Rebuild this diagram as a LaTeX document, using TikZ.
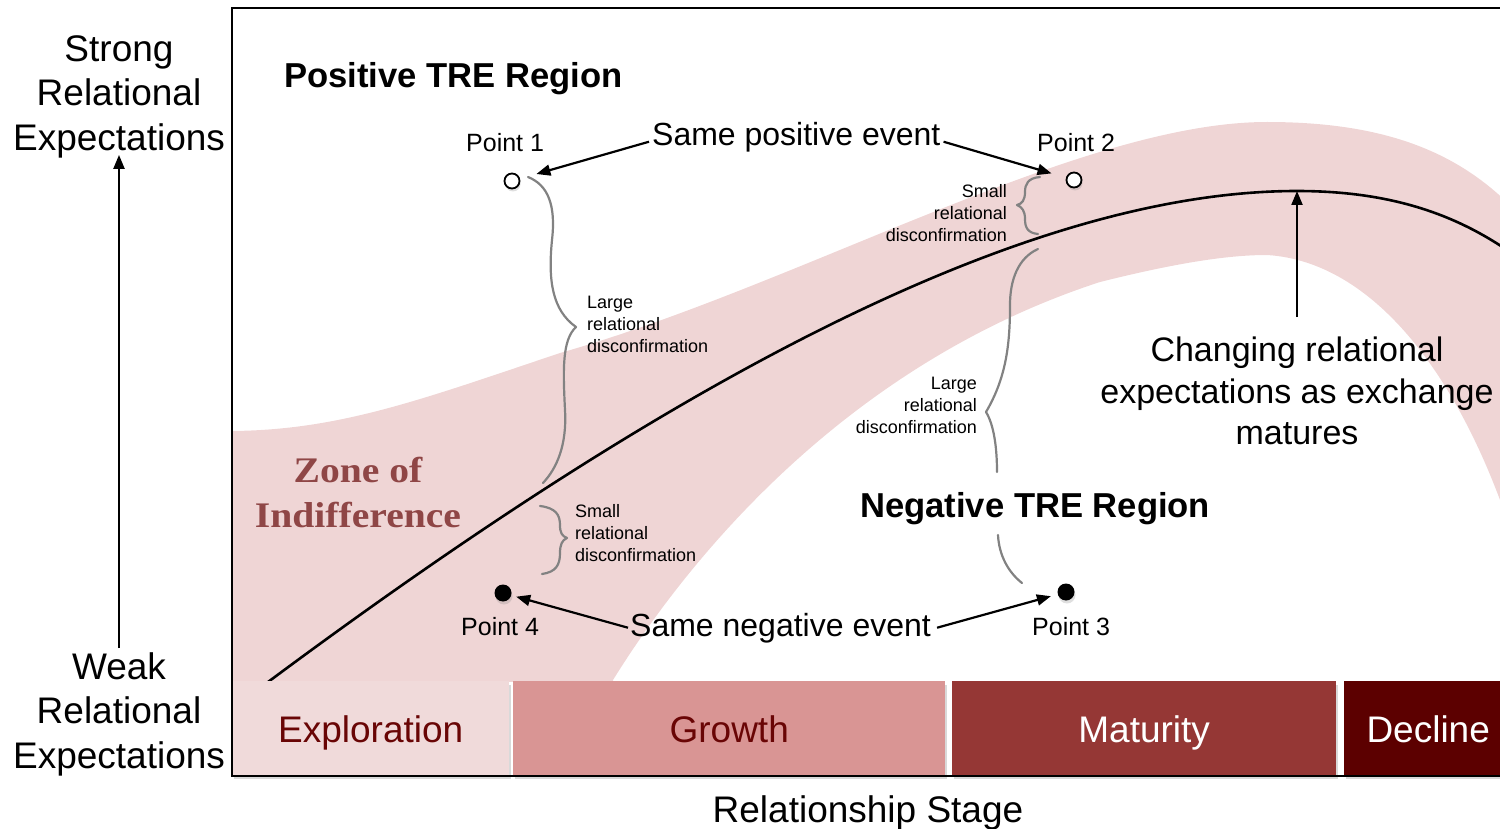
\documentclass[tikz,border=0pt]{standalone}
\usepackage{fontspec}
\setmainfont{Liberation Sans}
\newfontfamily\zonefont[FakeStretch=1.1]{Liberation Serif}
\usetikzlibrary{arrows.meta,shadows}

\definecolor{bandpink}{RGB}{239,213,213}
\definecolor{explfill}{RGB}{240,218,218}
\definecolor{growfill}{RGB}{217,149,148}
\definecolor{matfill}{RGB}{149,55,53}
\definecolor{decfill}{RGB}{92,0,0}
\definecolor{stagedark}{RGB}{105,5,5}
\definecolor{zonered}{RGB}{143,70,70}
\definecolor{bracegray}{RGB}{130,130,130}

\begin{document}
\begin{tikzpicture}[x=1pt,y=-1pt,
  arr/.style={line width=2.2pt,-{Triangle[length=14pt,width=11pt]}},
  bracepath/.style={draw=bracegray,line width=2.2pt,line cap=round,line join=round},
  axislab/.style={inner sep=0pt,align=center,font=\fontsize{37}{44.5}\selectfont},
  eventlab/.style={inner sep=0pt,anchor=base west,font=\fontsize{32}{38}\selectfont},
  pointlab/.style={inner sep=0pt,anchor=base west,font=\fontsize{25}{30}\selectfont},
  regionlab/.style={inner sep=0pt,anchor=base west,font=\bfseries\fontsize{34.6}{40}\selectfont},
  smalllab/.style={inner sep=0pt,font=\fontsize{18}{22.2}\selectfont},
  opendot/.style={circle,draw,line width=1.8pt,fill=white,minimum size=15pt,inner sep=0pt,
    drop shadow={shadow xshift=1pt,shadow yshift=-3pt,opacity=.25}},
  soliddot/.style={circle,fill=black,minimum size=17pt,inner sep=0pt,
    drop shadow={shadow xshift=1pt,shadow yshift=-3pt,opacity=.25}},
  stagebar/.style={rectangle,inner sep=0pt,anchor=north west,minimum height=94pt,
    text height=30pt,text depth=2pt,font=\fontsize{37}{44}\selectfont,
    drop shadow={shadow xshift=2pt,shadow yshift=-4pt,opacity=.3}}
]
\useasboundingbox (0,0) rectangle (1500,829);

% zone of indifference band and the expectation curve
\begin{scope}
  \clip (232,8) rectangle (1500,681);
  \fill[bandpink] (232,431) .. controls (340,430) and (420,400) .. (560,353)
    .. controls (800,285) and (1080,122) .. (1267,122)
    .. controls (1400,122) and (1480,160) .. (1540,240)
    -- (1700,240) -- (1700,760) -- (1560,760)
    -- (1520,560) .. controls (1470,390) and (1380,262) .. (1267,255)
    .. controls (1230,255) and (1180,262) .. (1100,282)
    .. controls (860,360) and (700,540) .. (613,680)
    -- (613,700) -- (232,700) -- cycle;
  \draw[line width=2.6pt] (264,685) .. controls (620,420) and (1000,191) .. (1297,191)
    .. controls (1410,191) and (1480,225) .. (1540,275);
\end{scope}
\coordinate (peak) at (1297,191);

% braces
\draw[bracepath] (528,177) .. controls (548,185) and (556,205) .. (552,240)
  .. controls (548,280) and (552,310) .. (576,327)
  .. controls (562,340) and (563,370) .. (565,410)
  .. controls (567,445) and (557,468) .. (543,483);
\draw[bracepath] (540,506) .. controls (556,508) and (560,515) .. (560,525)
  .. controls (560,533) and (562,536) .. (567,538)
  .. controls (562,540) and (560,545) .. (560,553)
  .. controls (560,565) and (556,572) .. (542,574);
\draw[bracepath] (1040,177) .. controls (1028,178) and (1025,184) .. (1025,192)
  .. controls (1025,200) and (1022,204) .. (1017,205)
  .. controls (1022,207) and (1025,211) .. (1025,219)
  .. controls (1025,228) and (1028,233) .. (1038,234);
\draw[bracepath] (1038,249) .. controls (1018,258) and (1010,280) .. (1010,305)
  .. controls (1010,345) and (1006,378) .. (986,412)
  .. controls (994,425) and (997,448) .. (997,472);
\draw[bracepath] (998,535) .. controls (999,555) and (1008,572) .. (1022,583);

% points
\node[opendot] (p1) at (512,181) {};
\node[opendot] (p2) at (1074,180) {};
\node[soliddot] (p3) at (1066,592) {};
\node[soliddot] (p4) at (503,593) {};

\node[pointlab] (p1lab) at (466,152) {Point 1};
\node[pointlab] (p2lab) at (1037,152) {Point 2};
\node[pointlab] (p3lab) at (1032,635) {Point 3};
\node[pointlab] (p4lab) at (461,635) {Point 4};

% events
\node[eventlab] (spe) at (652,146) {Same positive event};
\node[eventlab] (sne) at (630,636) {Same negative event};
\draw[arr,shorten >=17pt] ([xshift=-3pt,yshift=-4pt]spe.west) -- (p1);
\draw[arr,shorten >=15pt] ([xshift=3pt,yshift=-4pt]spe.east) -- (p2);
\draw[arr,shorten >=5pt] ([xshift=-2pt]sne.west) -- (p4);
\draw[arr,shorten >=7pt] ([xshift=6pt]sne.east) -- (p3);

% region titles
\node[regionlab] (pos) at (284,88) {Positive TRE Region};
\node[regionlab] (neg) at (860,517) {Negative TRE Region};

\node[inner sep=0pt,anchor=north,align=center,text=zonered,
  font=\zonefont\bfseries\fontsize{36}{45}\selectfont] (zone) at (358,457) {Zone of\\Indifference};

% disconfirmation labels
\node[smalllab,anchor=north west,align=left] (lg1) at (587,296) {Large\\relational\\disconfirmation};
\node[smalllab,anchor=north west,align=left] (sm4) at (575,504) {Small\\relational\\disconfirmation};
\node[smalllab,anchor=north east,align=right] (sm2) at (1007,184) {Small\\relational\\disconfirmation};
\node[smalllab,anchor=north east,align=right] (lg3) at (977,377) {Large\\relational\\disconfirmation};

% changing expectations
\node[inner sep=0pt,anchor=north,align=center,font=\fontsize{34}{41.5}\selectfont] (chg)
  at (1297,337) {Changing relational\\expectations as exchange\\matures};
\draw[arr] ([yshift=20pt]chg.north) -- (peak);

% relationship stages
\node[stagebar,fill=explfill,minimum width=277pt,text=stagedark] (expl) at (232,681) {Exploration};
\node[stagebar,fill=growfill,minimum width=432pt,text=stagedark] (grow) at (513,681) {Growth};
\node[stagebar,fill=matfill,minimum width=384pt,text=white] (mat) at (952,681) {Maturity};
\node[stagebar,fill=decfill,minimum width=168pt,text=white] (dec) at (1344,681) {Decline};

% frame
\draw[line width=2pt] (1500,8) -- (232,8) -- (232,776) -- (1500,776);

\node[inner sep=0pt,anchor=base,font=\fontsize{37}{44}\selectfont] (stage) at (868,822) {Relationship Stage};

% vertical axis
\node[axislab,anchor=north] (strong) at (119,35) {Strong\\Relational\\Expectations};
\node[axislab,anchor=north] (weak) at (119,652) {Weak\\Relational\\Expectations};
\draw[arr] ([yshift=4pt]weak.north) -- ([yshift=3pt]strong.south);
\end{tikzpicture}
\end{document}
